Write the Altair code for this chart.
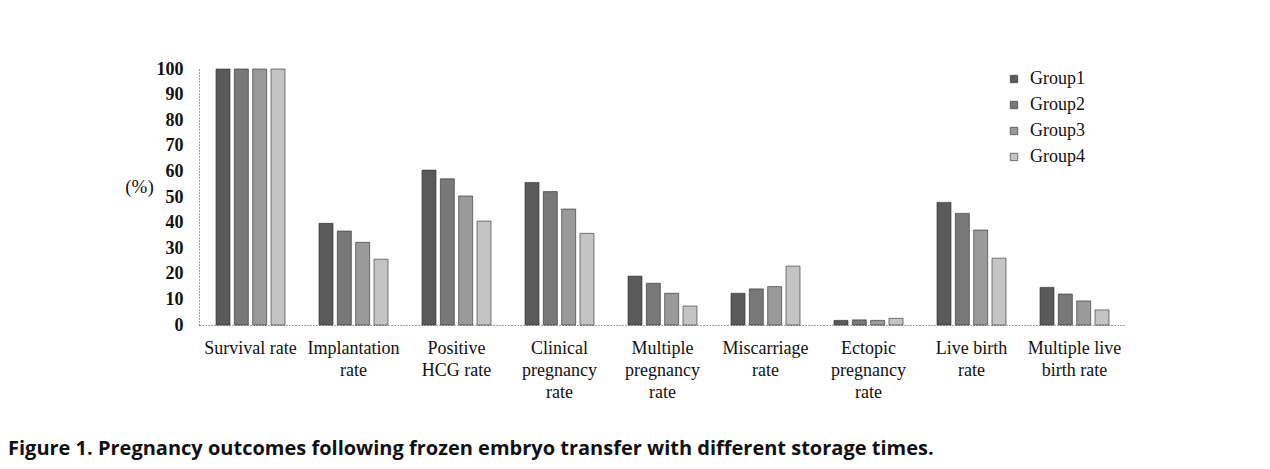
import altair as alt
import pandas as pd

categories = [
    "Survival rate",
    "Implantation\nrate",
    "Positive\nHCG rate",
    "Clinical\npregnancy\nrate",
    "Multiple\npregnancy\nrate",
    "Miscarriage\nrate",
    "Ectopic\npregnancy\nrate",
    "Live birth\nrate",
    "Multiple live\nbirth rate",
]
groups = ["Group1", "Group2", "Group3", "Group4"]
group1 = [100, 39.7, 60.5, 55.7, 19.1, 12.4, 1.8, 47.9, 14.7]
group2 = [100, 36.7, 57.1, 52.1, 16.3, 14.1, 2.0, 43.6, 12.1]
group3 = [100, 32.3, 50.4, 45.3, 12.4, 15.0, 1.8, 37.1, 9.4]
group4 = [100, 25.7, 40.6, 35.8, 7.4, 23.0, 2.6, 26.1, 5.9]
y_ticks = list(range(0, 101, 10))
caption = "Figure 1. Pregnancy outcomes following frozen embryo transfer with different storage times."

rows = []
for g, vals in zip(groups, [group1, group2, group3, group4]):
    for c, v in zip(categories, vals):
        rows.append({"category": c, "group": g, "value": v})
df = pd.DataFrame(rows)

colors = ["#5a5a5a", "#787878", "#9a9a9a", "#c4c4c4"]

bars = alt.Chart(df).mark_bar(stroke="#2a2a2a", strokeWidth=0.6).encode(
    x=alt.X(
        "category:N",
        sort=categories,
        scale=alt.Scale(paddingInner=0.33, paddingOuter=0.165),
        axis=alt.Axis(
            title=None,
            labelAngle=0,
            labelExpr="split(datum.label, '\\n')",
            labelFont="Liberation Serif",
            labelFontSize=18,
            labelColor="#111",
            labelLineHeight=22,
            labelPadding=14,
            labelBaseline="top",
            ticks=False,
            domainColor="#444",
            domainDash=[1, 2],
            domainWidth=1,
        ),
    ),
    xOffset=alt.XOffset("group:N", sort=groups, scale=alt.Scale(paddingInner=0.236, paddingOuter=0)),
    y=alt.Y(
        "value:Q",
        scale=alt.Scale(domain=[0, 100], nice=False),
        axis=alt.Axis(
            values=y_ticks,
            title="(%)",
            titleAngle=0,
            titleX=-60,
            titleY=117,
            titleAlign="center",
            titleBaseline="middle",
            titleFont="Liberation Serif",
            titleFontSize=19,
            titleFontWeight="normal",
            titleColor="#111",
            labelFont="Liberation Serif",
            labelFontSize=18,
            labelFontWeight="bold",
            labelColor="#111",
            labelPadding=16,
            ticks=False,
            grid=False,
            domainColor="#444",
            domainDash=[1, 2],
            domainWidth=1,
        ),
    ),
    color=alt.Color(
        "group:N",
        sort=groups,
        scale=alt.Scale(domain=groups, range=colors),
        legend=alt.Legend(
            title=None,
            orient="none",
            legendX=806,
            legendY=1,
            symbolType="square",
            symbolSize=55,
            symbolStrokeColor="#2a2a2a",
            symbolStrokeWidth=0.6,
            labelFont="Liberation Serif",
            labelFontSize=18,
            labelColor="#111",
            labelOffset=7,
            rowPadding=8,
            padding=0,
        ),
    ),
)

cap = alt.Chart(pd.DataFrame({"t": [caption]})).mark_text(
    align="left",
    baseline="middle",
    font="Open Sans",
    fontWeight="bold",
    fontSize=20,
    color="#111",
).encode(text="t:N", x=alt.value(-191), y=alt.value(380))

chart = alt.layer(bars, cap).properties(
    width=927,
    height=256,
    background="white",
    padding={"left": 191, "top": 61, "right": 136, "bottom": 136},
    autosize=alt.AutoSizeParams(type="none"),
).configure_view(strokeWidth=0, stroke="transparent")

chart.save("out.html", embed_options={"renderer": "svg", "actions": False})
